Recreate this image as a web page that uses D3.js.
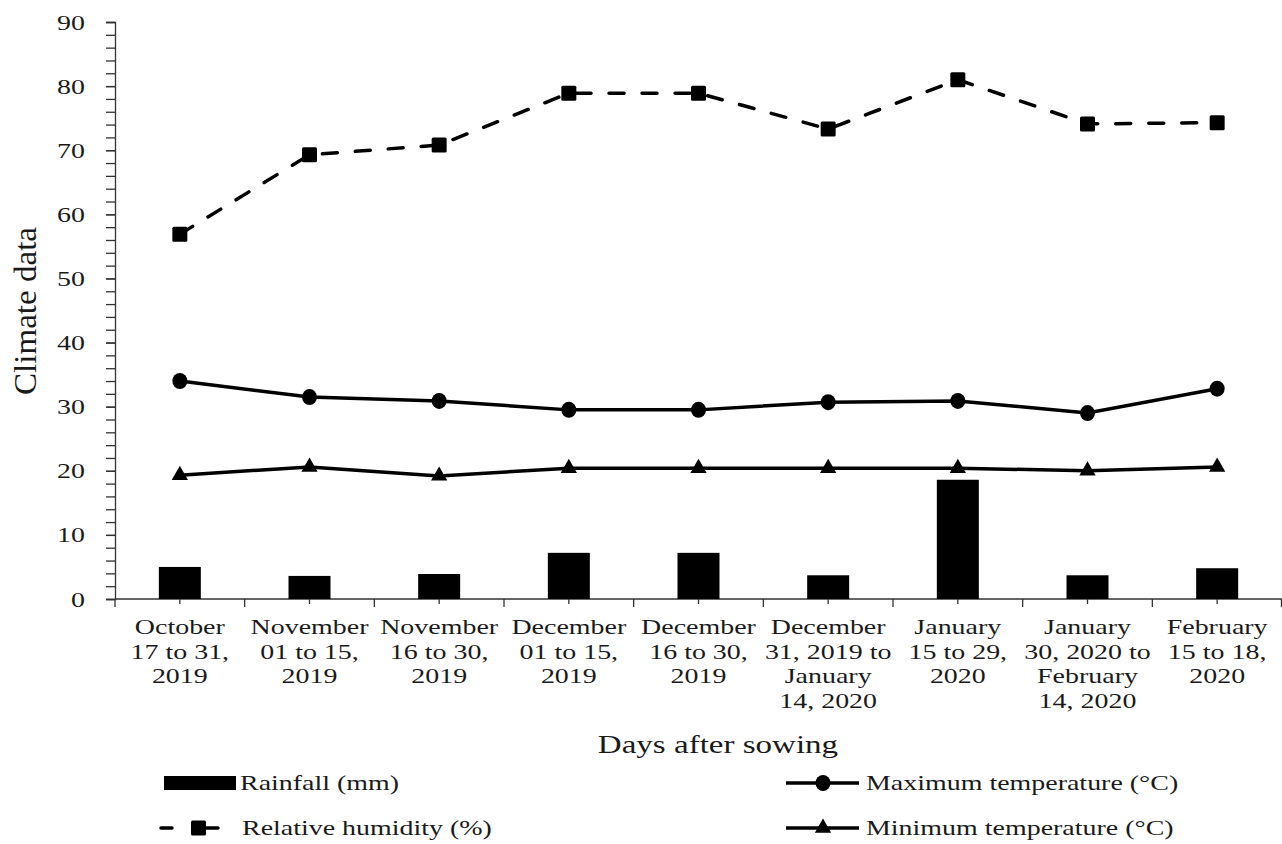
<!DOCTYPE html>
<html>
<head>
<meta charset="utf-8">
<script src="https://cdn.jsdelivr.net/npm/d3@7"></script>
<style>
  body { margin: 0; background: #fff; }
  svg { display: block; font-family: "Liberation Serif", "Times New Roman", serif; }
  text { fill: #1a1a1a; }
</style>
</head>
<body>
<svg width="1282" height="844"></svg>
<script>
  // Categories (x-axis labels, one entry per line)
  const periods = [
    ['October', '17 to 31,', '2019'],
    ['November', '01 to 15,', '2019'],
    ['November', '16 to 30,', '2019'],
    ['December', '01 to 15,', '2019'],
    ['December', '16 to 30,', '2019'],
    ['December', '31, 2019 to', 'January', '14, 2020'],
    ['January', '15 to 29,', '2020'],
    ['January', '30, 2020 to', 'February', '14, 2020'],
    ['February', '15 to 18,', '2020']
  ];

  // Series values
  const rainfall = [5.0, 3.6, 3.9, 7.2, 7.2, 3.7, 18.6, 3.7, 4.8];
  const humidity = [56.9, 69.3, 70.8, 78.9, 78.9, 73.3, 81.0, 74.1, 74.3];
  const maxTemp = [34.0, 31.5, 30.9, 29.5, 29.5, 30.7, 30.9, 29.0, 32.8];
  const minTemp = [19.3, 20.6, 19.2, 20.4, 20.4, 20.4, 20.4, 20.0, 20.6];

  // Axis ticks
  const yMajor = d3.range(0, 91, 10);
  const yMinor = d3.range(0, 91, 2);

  const svg = d3.select('svg');
  const margin = { top: 22, right: 0, bottom: 245, left: 115 };
  const width = +svg.attr('width');
  const height = +svg.attr('height');
  const innerWidth = width - margin.left - margin.right;
  const innerHeight = height - margin.top - margin.bottom;

  // the figure's text is widened horizontally; mimic it with textLength
  const sx = 1.27;
  const stretch = (sel, k) => sel.each(function () {
    const len = this.getComputedTextLength();
    d3.select(this)
      .attr('textLength', len * k)
      .attr('lengthAdjust', 'spacingAndGlyphs');
  });

  const idx = d3.range(periods.length);

  const x = d3.scaleBand()
    .domain(idx)
    .range([0, innerWidth])
    .padding(0);

  const y = d3.scaleLinear()
    .domain([0, 90])
    .range([innerHeight, 0]);

  const g = svg.append('g')
    .attr('transform', `translate(${margin.left},${margin.top})`);

  // y axis: minor ticks every 2, labels every 10
  const yMinorG = g.append('g')
    .call(d3.axisLeft(y).tickValues(yMinor).tickSize(9).tickFormat(''));
  yMinorG.selectAll('text').remove();
  yMinorG.selectAll('path, line').attr('stroke', '#333').attr('stroke-width', 1.3);

  const yAxisG = g.append('g')
    .call(d3.axisLeft(y).tickValues(yMajor).tickSize(9).tickPadding(21));
  yAxisG.attr('font-family', null).attr('font-size', null);
  yAxisG.select('.domain').remove();
  yAxisG.selectAll('line').attr('stroke', '#333').attr('stroke-width', 1.3);
  yAxisG.selectAll('text')
    .attr('font-size', 22)
    .attr('fill', '#1a1a1a')
    .call(stretch, sx);

  // x axis: ticks at category centres and boundaries
  const xAxisG = g.append('g')
    .attr('transform', `translate(0,${innerHeight})`)
    .call(d3.axisBottom(x).tickSize(5).tickFormat(''));
  xAxisG.attr('font-family', null).attr('font-size', null);
  xAxisG.selectAll('.tick text').remove();
  xAxisG.selectAll('path, line').attr('stroke', '#333').attr('stroke-width', 1.3);
  xAxisG.select('.domain').attr('d', `M0,0H${innerWidth}`);

  xAxisG.selectAll('.bound')
    .data(d3.range(periods.length + 1))
    .enter().append('line')
      .attr('class', 'bound')
      .attr('x1', d => d === periods.length ? innerWidth - 0.5 : x(d))
      .attr('x2', d => d === periods.length ? innerWidth - 0.5 : x(d))
      .attr('y1', 0)
      .attr('y2', 8)
      .attr('stroke', '#333')
      .attr('stroke-width', 1.3);

  const cx = i => x(i) + x.bandwidth() / 2;

  // multi-line x tick labels, one text per line
  const xLabelG = g.append('g');
  periods.forEach((lines, i) => {
    lines.forEach((s, j) => {
      xLabelG.append('text')
        .attr('x', cx(i))
        .attr('y', innerHeight + 35 + j * 24.5)
        .attr('text-anchor', 'middle')
        .attr('font-size', 22)
        .text(s)
        .call(stretch, sx);
    });
  });

  // axis titles
  g.append('text')
    .attr('transform', `rotate(-90)`)
    .attr('x', -(311 - margin.top))
    .attr('y', 36 - margin.left)
    .attr('text-anchor', 'middle')
    .attr('font-size', 32)
    .attr('textLength', 168)
    .attr('lengthAdjust', 'spacingAndGlyphs')
    .text('Climate data');

  g.append('text')
    .attr('x', 718 - margin.left)
    .attr('y', 753 - margin.top)
    .attr('text-anchor', 'middle')
    .attr('font-size', 26)
    .text('Days after sowing')
    .call(stretch, sx);

  // rainfall bars
  const barW = 42;
  g.selectAll('.bar')
    .data(rainfall)
    .enter().append('rect')
      .attr('class', 'bar')
      .attr('x', (d, i) => cx(i) - barW / 2)
      .attr('y', d => y(d))
      .attr('width', barW)
      .attr('height', d => innerHeight - y(d))
      .attr('fill', '#000');

  const line = d3.line()
    .x((d, i) => cx(i))
    .y(d => y(d));

  // relative humidity (dashed, squares)
  g.append('path')
    .datum(humidity)
    .attr('d', line)
    .attr('fill', 'none')
    .attr('stroke', '#000')
    .attr('stroke-width', 3.5)
    .attr('stroke-linecap', 'round')
    .attr('stroke-dasharray', '15,18');
  g.selectAll('.sq')
    .data(humidity)
    .enter().append('rect')
      .attr('class', 'sq')
      .attr('x', (d, i) => cx(i) - 7.5)
      .attr('y', d => y(d) - 7.5)
      .attr('width', 15)
      .attr('height', 15)
      .attr('rx', 1.5)
      .attr('fill', '#000');

  // maximum temperature (circles)
  g.append('path')
    .datum(maxTemp)
    .attr('d', line)
    .attr('fill', 'none')
    .attr('stroke', '#000')
    .attr('stroke-width', 3.5);
  g.selectAll('.dot')
    .data(maxTemp)
    .enter().append('ellipse')
      .attr('class', 'dot')
      .attr('cx', (d, i) => cx(i))
      .attr('cy', d => y(d))
      .attr('rx', 7.5)
      .attr('ry', 8)
      .attr('fill', '#000');

  // minimum temperature (triangles)
  g.append('path')
    .datum(minTemp)
    .attr('d', line)
    .attr('fill', 'none')
    .attr('stroke', '#000')
    .attr('stroke-width', 3.5);
  const tri = d3.symbol().type(d3.symbolTriangle).size(115);
  g.selectAll('.tri')
    .data(minTemp)
    .enter().append('path')
      .attr('class', 'tri')
      .attr('d', tri)
      .attr('transform', (d, i) => `translate(${cx(i)},${y(d)})`)
      .attr('fill', '#000');

  // legend
  const legend = svg.append('g');
  const row1 = 783, row2 = 828;

  legend.append('rect')
    .attr('x', 164).attr('y', row1 - 7)
    .attr('width', 72).attr('height', 14)
    .attr('fill', '#000');
  legend.append('text')
    .attr('x', 240).attr('y', row1 + 7)
    .attr('font-size', 22)
    .text('Rainfall (mm)')
    .call(stretch, sx);

  legend.append('line')
    .attr('x1', 161).attr('x2', 172).attr('y1', row2).attr('y2', row2)
    .attr('stroke', '#000').attr('stroke-width', 3.5).attr('stroke-linecap', 'round');
  legend.append('line')
    .attr('x1', 199).attr('x2', 218).attr('y1', row2).attr('y2', row2)
    .attr('stroke', '#000').attr('stroke-width', 3.5).attr('stroke-linecap', 'round');
  legend.append('rect')
    .attr('x', 191).attr('y', row2 - 7.5)
    .attr('width', 15).attr('height', 15).attr('rx', 1.5)
    .attr('fill', '#000');
  legend.append('text')
    .attr('x', 242).attr('y', row2 + 7)
    .attr('font-size', 22)
    .text('Relative humidity (%)')
    .call(stretch, sx);

  legend.append('line')
    .attr('x1', 786).attr('x2', 859).attr('y1', row1).attr('y2', row1)
    .attr('stroke', '#000').attr('stroke-width', 3.5);
  legend.append('ellipse')
    .attr('cx', 823).attr('cy', row1).attr('rx', 7.5).attr('ry', 8)
    .attr('fill', '#000');
  legend.append('text')
    .attr('x', 866).attr('y', row1 + 7)
    .attr('font-size', 22)
    .text('Maximum temperature (°C)')
    .call(stretch, sx);

  legend.append('line')
    .attr('x1', 786).attr('x2', 859).attr('y1', row2).attr('y2', row2)
    .attr('stroke', '#000').attr('stroke-width', 3.5);
  legend.append('path')
    .attr('d', tri)
    .attr('transform', `translate(823,${row2})`)
    .attr('fill', '#000');
  legend.append('text')
    .attr('x', 866).attr('y', row2 + 7)
    .attr('font-size', 22)
    .text('Minimum temperature (°C)')
    .call(stretch, sx);
</script>
</body>
</html>
